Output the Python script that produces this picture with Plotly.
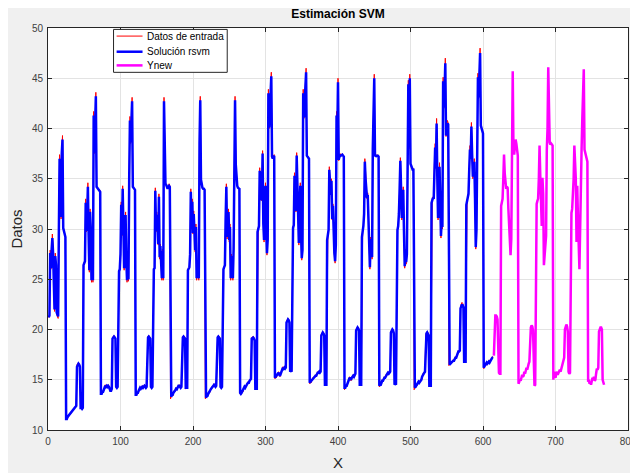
import plotly.graph_objects as go

# ---- data ----
y_datos = [
    # 1-24
    21.2, 21.3, 27.9, 26.0, 28.0, 29.5, 27.8, 22.5, 21.8, 27.6, 26.5, 21.5, 21.2, 21.1, 30.0, 37.4, 36.5, 31.0, 37.8, 39.3, 30.0, 29.7, 29.5, 29.3,
    # 25-72
    11.0, 11.1, 11.3, 11.4, 11.5, 11.6, 11.7, 11.8, 11.9, 12.0, 12.1, 12.2, 12.3, 12.4, 12.4, 16.5, 16.7, 16.7, 16.6, 16.4, 12.1, 12.2, 12.1, 12.2,
    26.5, 26.6, 26.8, 33.0, 29.7, 31.5, 34.6, 29.5, 25.7, 32.0, 30.0, 24.7, 28.5, 24.7, 41.7, 37.5, 41.5, 43.6, 34.3, 34.1, 34.0, 34.0, 33.9, 33.8,
    # 73-120
    13.5, 13.6, 13.8, 13.7, 14.0, 14.2, 14.5, 14.3, 14.4, 14.3, 14.5, 14.3, 14.0, 13.8, 13.9, 14.1, 19.2, 19.4, 19.4, 19.3, 19.2, 14.3, 14.2, 14.3,
    25.7, 25.8, 26.0, 27.5, 32.7, 29.3, 34.3, 30.5, 25.9, 29.0, 31.7, 27.0, 24.7, 26.0, 24.8, 35.0, 41.2, 38.5, 40.5, 43.1, 34.2, 34.1, 34.0, 33.9,
    # 121-168
    13.4, 13.5, 13.7, 13.6, 13.9, 14.0, 14.2, 14.1, 14.3, 14.4, 14.2, 14.3, 14.5, 14.3, 14.2, 14.3, 19.2, 19.3, 19.4, 19.3, 19.2, 14.3, 14.2, 14.3,
    25.9, 26.0, 26.1, 34.1, 29.7, 31.7, 30.5, 28.4, 33.5, 27.0, 28.5, 26.5, 24.9, 28.0, 24.9, 43.1, 37.0, 34.6, 34.4, 34.2, 34.0, 34.2, 34.5, 34.3,
    # 169-216
    13.1, 13.3, 13.5, 13.4, 13.7, 13.9, 13.8, 14.0, 14.2, 14.1, 14.3, 14.4, 14.5, 14.3, 14.2, 14.3, 19.2, 19.3, 19.4, 19.3, 19.2, 14.1, 14.2, 14.2,
    26.0, 26.1, 26.2, 27.5, 34.0, 30.5, 33.0, 29.5, 31.8, 29.7, 27.7, 30.5, 24.9, 26.5, 25.5, 24.9, 38.5, 43.2, 35.0, 34.2, 34.1, 34.0, 34.0, 33.9,
    # 217-264
    13.1, 13.2, 13.4, 13.3, 13.6, 13.8, 13.7, 14.0, 14.1, 14.3, 14.2, 14.4, 14.6, 14.4, 14.3, 14.4, 19.2, 19.3, 19.4, 19.3, 19.2, 14.3, 14.2, 14.3,
    25.9, 26.0, 26.2, 26.4, 31.0, 34.5, 29.0, 30.3, 32.0, 28.7, 30.5, 24.9, 27.5, 26.0, 24.9, 28.0, 38.0, 43.2, 36.5, 34.6, 34.3, 34.1, 34.0, 34.0,
    # 265-312
    13.6, 13.5, 13.7, 13.9, 13.8, 14.1, 14.3, 14.2, 14.4, 14.5, 14.6, 14.8, 14.7, 14.9, 15.0, 15.1, 19.2, 19.3, 19.3, 19.2, 19.0, 14.0, 14.1, 14.0,
    30.0, 30.1, 30.3, 36.1, 33.5, 33.0, 32.8, 37.8, 30.5, 28.7, 31.5, 34.6, 30.0, 27.4, 29.0, 43.9, 40.0, 42.5, 44.0, 45.6, 37.2, 37.0, 37.2, 37.4,
    # 313-360
    15.1, 15.3, 15.2, 15.4, 15.6, 15.8, 15.5, 15.3, 15.6, 15.8, 16.0, 16.3, 16.1, 16.2, 16.1, 16.2, 20.8, 21.0, 21.1, 21.0, 20.8, 15.8, 15.9, 15.8,
    29.7, 30.2, 30.4, 35.6, 33.0, 31.7, 37.6, 33.5, 30.0, 28.4, 32.0, 34.6, 29.5, 26.9, 28.0, 43.9, 41.0, 42.5, 44.5, 46.0, 37.4, 37.2, 37.1, 37.0,
    # 361-408
    14.6, 14.8, 14.7, 15.0, 15.2, 15.1, 15.3, 15.2, 15.5, 15.4, 15.6, 15.8, 15.7, 15.8, 15.7, 15.8, 19.5, 19.7, 19.8, 19.7, 19.5, 14.4, 14.5, 14.4,
    29.0, 29.5, 29.9, 36.2, 34.5, 33.4, 35.0, 30.9, 32.5, 29.0, 27.5, 26.6, 28.5, 41.7, 39.0, 45.0, 36.8, 37.2, 37.5, 37.3, 37.4, 37.5, 37.3, 37.2,
    # 409-456
    14.0, 14.2, 14.5, 14.3, 14.6, 14.8, 15.0, 15.3, 15.1, 14.9, 15.2, 15.4, 15.5, 15.3, 15.5, 15.6, 20.0, 20.3, 20.3, 20.2, 20.0, 14.5, 14.4, 14.5,
    29.3, 29.8, 30.3, 31.5, 37.0, 35.0, 34.0, 33.0, 33.6, 30.0, 28.0, 26.0, 29.2, 28.0, 27.0, 38.0, 44.0, 45.4, 37.4, 37.2, 37.3, 37.4, 37.3, 37.2,
    # 457-504
    14.3, 14.6, 14.5, 14.8, 15.0, 14.8, 15.1, 15.3, 15.2, 15.5, 15.4, 15.6, 15.8, 15.6, 15.7, 15.8, 19.8, 20.0, 20.1, 20.0, 19.7, 14.5, 14.6, 14.5,
    29.5, 30.0, 30.3, 31.5, 34.0, 37.1, 34.0, 30.9, 33.0, 34.2, 29.7, 26.1, 28.0, 26.5, 27.5, 40.0, 44.8, 38.0, 45.4, 36.5, 36.2, 36.0, 35.9, 36.0,
    # 505-552
    14.0, 14.3, 14.2, 14.5, 14.4, 14.7, 14.9, 14.6, 14.8, 15.0, 14.9, 15.3, 15.6, 15.5, 15.7, 15.8, 19.5, 19.7, 19.8, 19.7, 19.5, 14.3, 14.4, 14.3,
    32.9, 33.0, 33.2, 33.0, 36.5, 38.5, 36.0, 41.0, 35.0, 30.9, 33.0, 36.6, 33.0, 29.1, 31.0, 30.0, 45.1, 42.0, 44.0, 47.0, 39.2, 40.0, 40.8, 40.5,
    # 553-600
    16.4, 16.6, 16.5, 16.8, 16.7, 16.9, 17.0, 16.8, 17.1, 17.3, 17.2, 17.5, 17.6, 17.9, 17.8, 17.9, 22.3, 22.6, 22.7, 22.6, 22.4, 16.8, 16.7, 16.8,
    32.5, 32.8, 33.2, 33.6, 36.0, 38.3, 37.0, 40.6, 37.5, 35.0, 36.0, 37.0, 33.0, 28.0, 30.0, 38.0, 45.5, 43.0, 45.0, 48.0, 40.3, 40.0, 39.7, 39.6,
    # 601-614
    16.1, 16.3, 16.6, 16.4, 16.8, 16.5, 16.7, 16.9, 16.6, 17.0, 16.9, 17.1, 17.3, 17.2,
]

y_rsvm = [
    # 1-24
    21.2, 21.4, 27.6, 26.1, 27.9, 29.1, 27.6, 22.6, 22.0, 27.3, 26.4, 21.7, 21.3, 21.3, 30.0, 37.0, 36.5, 31.2, 37.5, 38.9, 30.1, 29.7, 29.5, 29.2,
    # 25-72
    11.1, 11.1, 11.3, 11.4, 11.5, 11.6, 11.7, 11.8, 11.9, 12.0, 12.1, 12.2, 12.3, 12.4, 12.4, 16.3, 16.6, 16.6, 16.5, 16.3, 12.2, 12.2, 12.1, 12.2,
    26.4, 26.6, 26.8, 32.6, 29.8, 31.4, 34.2, 29.5, 25.9, 31.7, 30.0, 24.9, 28.3, 24.9, 41.3, 37.6, 41.2, 43.2, 34.2, 34.1, 34.0, 34.0, 33.9, 33.7,
    # 73-120
    13.6, 13.6, 13.8, 13.8, 14.0, 14.2, 14.4, 14.3, 14.4, 14.3, 14.4, 14.3, 14.0, 13.9, 13.9, 14.1, 19.1, 19.3, 19.3, 19.2, 19.1, 14.3, 14.2, 14.3,
    25.6, 25.8, 26.0, 27.5, 32.4, 29.4, 34.0, 30.4, 26.1, 29.0, 31.4, 27.0, 24.9, 25.9, 25.0, 35.0, 40.8, 38.6, 40.2, 42.7, 34.2, 34.1, 34.0, 33.9,
    # 121-168
    13.5, 13.5, 13.7, 13.7, 13.9, 14.0, 14.2, 14.1, 14.3, 14.3, 14.2, 14.3, 14.4, 14.3, 14.2, 14.3, 19.1, 19.2, 19.3, 19.2, 19.1, 14.3, 14.2, 14.3,
    25.8, 26.0, 26.1, 33.8, 29.8, 31.4, 30.5, 28.5, 33.2, 27.2, 28.3, 26.5, 25.1, 27.8, 25.1, 42.7, 37.0, 34.5, 34.4, 34.2, 34.0, 34.2, 34.3, 34.2,
    # 169-216
    13.3, 13.3, 13.5, 13.5, 13.7, 13.9, 13.9, 14.0, 14.2, 14.1, 14.3, 14.4, 14.4, 14.3, 14.2, 14.3, 19.1, 19.2, 19.3, 19.2, 19.1, 14.2, 14.2, 14.2,
    25.9, 26.1, 26.2, 27.5, 33.7, 30.6, 32.7, 29.6, 31.5, 29.7, 27.9, 30.2, 25.1, 26.3, 25.5, 25.1, 38.5, 42.8, 34.9, 34.2, 34.1, 34.0, 34.0, 33.9,
    # 217-264
    13.3, 13.2, 13.4, 13.4, 13.6, 13.8, 13.8, 14.0, 14.1, 14.2, 14.2, 14.4, 14.5, 14.4, 14.3, 14.4, 19.1, 19.2, 19.3, 19.2, 19.1, 14.3, 14.2, 14.3,
    25.8, 26.0, 26.2, 26.4, 31.0, 34.2, 29.2, 30.3, 31.7, 28.9, 30.2, 25.1, 27.3, 26.0, 25.1, 28.0, 38.0, 42.8, 36.4, 34.5, 34.3, 34.1, 34.0, 34.0,
    # 265-312
    13.7, 13.6, 13.7, 13.9, 13.9, 14.1, 14.3, 14.2, 14.4, 14.5, 14.6, 14.7, 14.7, 14.9, 15.0, 15.1, 19.1, 19.2, 19.2, 19.1, 18.9, 14.1, 14.1, 14.1,
    29.7, 30.0, 30.3, 35.8, 33.4, 33.0, 32.9, 37.5, 30.5, 28.9, 31.4, 34.3, 30.0, 27.6, 28.9, 43.5, 40.1, 42.3, 43.8, 45.2, 37.2, 37.0, 37.2, 37.3,
    # 313-360
    15.2, 15.3, 15.3, 15.4, 15.6, 15.7, 15.5, 15.4, 15.6, 15.8, 16.0, 16.2, 16.1, 16.2, 16.1, 16.2, 20.7, 20.9, 21.0, 20.9, 20.7, 15.8, 15.9, 15.8,
    29.6, 30.1, 30.4, 35.3, 33.0, 31.8, 37.3, 33.5, 30.0, 28.6, 32.0, 34.3, 29.6, 27.1, 27.9, 43.5, 41.1, 42.4, 44.2, 45.6, 37.3, 37.2, 37.1, 37.0,
    # 361-408
    14.7, 14.8, 14.8, 15.0, 15.1, 15.1, 15.3, 15.3, 15.4, 15.4, 15.6, 15.7, 15.7, 15.8, 15.7, 15.8, 19.4, 19.6, 19.7, 19.6, 19.4, 14.5, 14.5, 14.5,
    28.9, 29.4, 29.9, 35.9, 34.4, 33.4, 34.8, 31.0, 32.3, 29.1, 27.6, 26.8, 28.4, 41.3, 39.1, 44.6, 36.9, 37.2, 37.4, 37.3, 37.4, 37.4, 37.3, 37.2,
    # 409-456
    14.2, 14.2, 14.4, 14.4, 14.6, 14.8, 15.0, 15.2, 15.1, 15.0, 15.2, 15.4, 15.4, 15.3, 15.5, 15.6, 19.9, 20.2, 20.2, 20.1, 19.9, 14.5, 14.5, 14.5,
    29.2, 29.7, 30.3, 31.5, 36.7, 35.0, 34.0, 33.1, 33.4, 30.0, 28.0, 26.2, 29.0, 28.0, 27.2, 38.0, 43.8, 45.0, 37.4, 37.2, 37.3, 37.3, 37.3, 37.2,
    # 457-504
    14.4, 14.5, 14.5, 14.8, 14.9, 14.9, 15.1, 15.2, 15.2, 15.4, 15.4, 15.6, 15.7, 15.6, 15.7, 15.8, 19.7, 19.9, 20.0, 19.9, 19.6, 14.5, 14.6, 14.5,
    29.4, 29.9, 30.3, 31.5, 34.0, 36.8, 34.0, 31.1, 32.9, 33.9, 29.8, 26.3, 27.8, 26.7, 27.5, 40.0, 44.4, 38.2, 45.0, 36.5, 36.2, 36.0, 35.9, 35.9,
    # 505-552
    14.2, 14.2, 14.3, 14.4, 14.5, 14.6, 14.8, 14.7, 14.8, 14.9, 15.0, 15.3, 15.5, 15.5, 15.7, 15.8, 19.4, 19.6, 19.7, 19.6, 19.4, 14.4, 14.4, 14.4,
    32.6, 32.9, 33.1, 33.0, 36.3, 38.1, 36.1, 40.5, 35.0, 31.1, 33.0, 36.2, 33.0, 29.3, 30.8, 30.2, 44.7, 42.1, 43.8, 46.5, 39.3, 40.0, 40.5, 40.4,
    # 553-600
    16.5, 16.5, 16.6, 16.7, 16.8, 16.9, 16.9, 16.9, 17.1, 17.2, 17.2, 17.5, 17.6, 17.8, 17.8, 17.9, 22.1, 22.4, 22.5, 22.4, 22.2, 16.8, 16.8, 16.8,
    32.4, 32.7, 33.1, 33.5, 35.9, 37.9, 37.0, 40.2, 37.4, 35.2, 35.9, 36.7, 33.1, 28.2, 29.9, 38.0, 45.1, 43.1, 44.8, 47.5, 40.3, 40.0, 39.7, 39.5,
    # 601-614
    16.2, 16.3, 16.5, 16.5, 16.7, 16.6, 16.7, 16.8, 16.7, 16.9, 16.9, 17.1, 17.2, 17.2,
]

y_ynew = [
    # 615-648
    17.4, 21.0, 21.4, 21.4, 21.3, 21.0, 15.8, 15.7, 15.6, 15.6, 32.3, 32.6, 33.0, 35.0, 37.4, 35.5, 34.3,
    34.0, 34.2, 34.1, 32.0, 30.3, 28.5, 27.4, 29.0, 40.0, 45.7, 38.0, 37.4, 38.2, 38.9, 38.5, 37.5, 37.3,
    # 649-696
    14.6, 14.8, 15.0, 14.9, 15.2, 15.5, 15.3, 15.4, 15.8, 15.6, 15.9, 16.2, 16.0, 16.5, 16.6, 16.8, 19.7, 20.2, 20.4, 20.3, 19.9, 14.6, 14.4, 14.5,
    32.3, 32.5, 32.8, 33.0, 35.0, 38.3, 35.3, 33.0, 30.3, 35.1, 33.5, 26.4, 27.5, 28.5, 29.3, 37.9, 40.0, 46.1, 38.7, 38.6, 38.4, 38.5, 38.4, 38.3,
    # 697-744
    15.0, 15.8, 15.5, 15.2, 15.6, 15.8, 15.5, 15.7, 15.9, 16.0, 15.8, 16.1, 16.3, 16.4, 16.8, 17.2, 20.0, 20.4, 20.5, 20.3, 19.8, 15.8, 15.6, 15.7,
    31.3, 31.6, 32.0, 33.0, 35.0, 38.3, 36.5, 35.0, 28.7, 34.3, 31.0, 29.0, 26.0, 30.0, 37.0, 38.0, 41.0, 44.0, 45.9, 37.9, 37.5, 37.2, 36.8, 36.7,
    # 745-767
    14.8, 15.0, 14.6, 14.8, 14.5, 15.0, 15.2, 15.0, 15.3, 14.9, 15.0, 15.6, 16.1, 16.0, 16.2, 19.8, 20.1, 20.2, 20.2, 20.0, 15.0, 14.7, 14.5,
]

x_datos = list(range(1, len(y_datos) + 1))
x_ynew = list(range(615, 615 + len(y_ynew)))

x_ticks = [0, 100, 200, 300, 400, 500, 600, 700, 800]
y_ticks = [10, 15, 20, 25, 30, 35, 40, 45, 50]

title_text = "Estimación SVM"
x_title = "X"
y_title = "Datos"
names = ["Datos de entrada", "Solución rsvm", "Ynew"]
colors = ["#ff0000", "#0000ff", "#ff00ff"]
widths = [1, 2.5, 2.5]

FONT = "Liberation Sans, Arial, Helvetica, sans-serif"

fig = go.Figure()
fig.add_trace(go.Scatter(x=x_datos, y=y_datos, mode="lines", name=names[0],
                         line=dict(color=colors[0], width=widths[0])))
fig.add_trace(go.Scatter(x=x_datos, y=y_rsvm, mode="lines", name=names[1],
                         line=dict(color=colors[1], width=widths[1])))
fig.add_trace(go.Scatter(x=x_ynew, y=y_ynew, mode="lines", name=names[2],
                         line=dict(color=colors[2], width=widths[2])))

axis_common = dict(
    showgrid=True, gridcolor="#e3e3e3", gridwidth=1,
    zeroline=False, showline=True, linecolor="#262626", linewidth=1,
    mirror="allticks", ticks="inside", ticklen=4, tickcolor="#262626",
    tickfont=dict(family=FONT, size=10, color="#404040"),
    ticklabelstandoff=2, ticklabeloverflow="allow", automargin=False,
)

# legend box drawn in the MATLAB style (compact box, top-left inside the axes)
lg_x0, lg_x1, lg_y0, lg_y1 = 0.113, 0.309, 0.8897, 0.9965
row_y = [0.9799, 0.9410, 0.9070]
smp_x0, smp_x1, txt_x = 0.1183, 0.1630, 0.1675

shapes = [dict(type="rect", xref="paper", yref="paper", x0=lg_x0, x1=lg_x1, y0=lg_y0, y1=lg_y1,
               fillcolor="#ffffff", line=dict(color="#262626", width=1), layer="above")]
annotations = []
for nm, col, w, ry in zip(names, colors, widths, row_y):
    shapes.append(dict(type="line", xref="paper", yref="paper", x0=smp_x0, x1=smp_x1, y0=ry, y1=ry,
                       line=dict(color=col, width=w), layer="above"))
    annotations.append(dict(text=nm, xref="paper", yref="paper", x=txt_x, y=ry,
                            xanchor="left", yanchor="middle", showarrow=False,
                            font=dict(family=FONT, size=10, color="#000000")))

fig.update_layout(
    width=630, height=465,
    margin=dict(l=40, r=10, t=20, b=43),
    paper_bgcolor="#f0f0f0", plot_bgcolor="#ffffff",
    font=dict(family=FONT, color="#262626"),
    title=dict(text="<b>" + title_text + "</b>", x=0.5, xref="paper",
               y=1 - 6 / 465, yref="container", xanchor="center", yanchor="middle",
               font=dict(family=FONT, size=12, color="#000000")),
    xaxis=dict(range=[0, 800], tickvals=x_ticks,
               title=dict(text=x_title, font=dict(family=FONT, size=15, color="#262626"), standoff=11),
               **axis_common),
    yaxis=dict(range=[10, 50], tickvals=y_ticks,
               title=dict(text=y_title, font=dict(family=FONT, size=15, color="#262626"), standoff=10),
               **axis_common),
    showlegend=False,
    shapes=shapes,
    annotations=annotations,
)

fig.write_html("out.html")
